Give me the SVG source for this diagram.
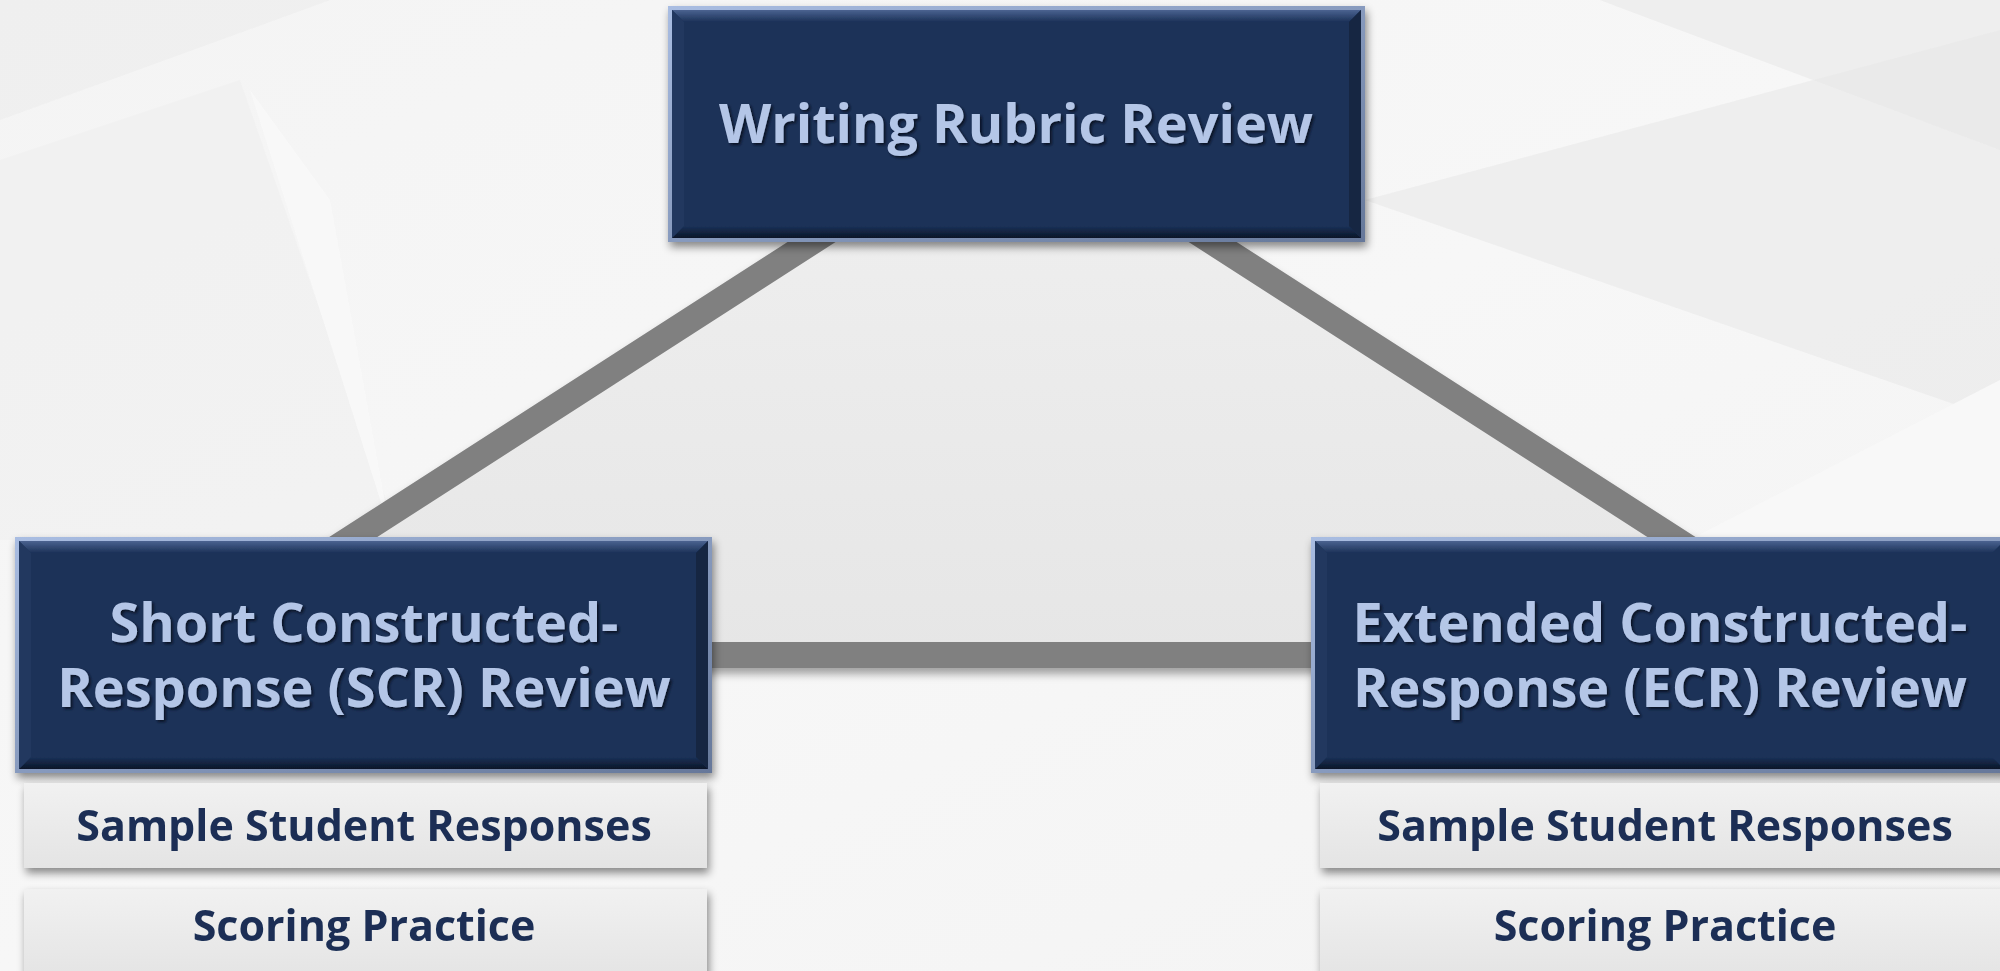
<svg xmlns="http://www.w3.org/2000/svg" width="2000" height="971" viewBox="0 0 2000 971">
  <defs>
    <linearGradient id="bg" x1="0" y1="0" x2="1" y2="1">
      <stop offset="0" stop-color="#f4f4f4"/>
      <stop offset="0.5" stop-color="#f7f7f7"/>
      <stop offset="1" stop-color="#f3f3f3"/>
    </linearGradient>
    <linearGradient id="tri" x1="0" y1="0" x2="0" y2="1">
      <stop offset="0" stop-color="#f0f0f0"/>
      <stop offset="1" stop-color="#e6e6e6"/>
    </linearGradient>
    <linearGradient id="rim" x1="0" y1="0" x2="1" y2="1">
      <stop offset="0" stop-color="#a9bde2"/>
      <stop offset="1" stop-color="#66789a"/>
    </linearGradient>
    <linearGradient id="bevTop" x1="0" y1="0" x2="0" y2="1">
      <stop offset="0" stop-color="#4a6390"/>
      <stop offset="1" stop-color="#1b3158"/>
    </linearGradient>
    <linearGradient id="bevBot" x1="0" y1="0" x2="0" y2="1">
      <stop offset="0" stop-color="#1b3158"/>
      <stop offset="1" stop-color="#0b1629"/>
    </linearGradient>
    <linearGradient id="sub" x1="0" y1="0" x2="0" y2="1">
      <stop offset="0" stop-color="#f1f1f1"/>
      <stop offset="1" stop-color="#e4e4e4"/>
    </linearGradient>
    <filter id="shadow" x="-10%" y="-10%" width="120%" height="130%">
      <feDropShadow dx="2" dy="5" stdDeviation="4" flood-color="#000" flood-opacity="0.45"/>
    </filter>
    <filter id="lshadow" x="-10%" y="-10%" width="120%" height="130%">
      <feDropShadow dx="0" dy="6" stdDeviation="4" flood-color="#000" flood-opacity="0.35"/>
    </filter>
    <filter id="tshadow" x="-5%" y="-20%" width="110%" height="150%">
      <feDropShadow dx="2" dy="2" stdDeviation="1.5" flood-color="#000" flood-opacity="0.6"/>
    </filter>
  </defs>
  <style>
    .title { font-family: "Open Sans", "Noto Sans", "Liberation Sans", sans-serif; font-weight: 700; fill: #b4c6e7; text-anchor: middle; font-size: 54px; }
    .sub { font-family: "Open Sans", "Noto Sans", "Liberation Sans", sans-serif; font-weight: 700; fill: #1a2f55; text-anchor: middle; font-size: 43px; }
    .conn { fill: url(#tri); stroke: #808080; stroke-width: 26; stroke-linejoin: miter; }
  </style>

  <!-- background -->
  <rect x="0" y="0" width="2000" height="971" fill="url(#bg)"/>
  <g opacity="0.6">
    <polygon points="0,0 330,0 0,120" fill="#e6e6e6" opacity="0.5"/>
    <polygon points="0,160 240,80 400,540 0,540" fill="#ececec" opacity="0.6"/>
    <polygon points="250,90 390,530 330,200" fill="#fbfbfb"/>
    <polygon points="1365,200 2000,30 2000,420" fill="#e2e2e2" opacity="0.7"/>
    <polygon points="1600,0 2000,0 2000,150" fill="#dcdcdc" opacity="0.5"/>
    <polygon points="1650,560 2000,380 2000,560" fill="#fafafa"/>
  </g>

  <!-- connectors -->
  <g id="connectors" filter="url(#lshadow)">
    <polygon class="conn" points="1012,113 170,655 1855,655"/>
  </g>

  <!-- top node -->
  <g id="node-writing" filter="url(#shadow)">
    <rect x="668" y="6" width="697" height="236" fill="url(#rim)"/>
    <rect x="672" y="10" width="689" height="228" fill="#1b3158"/>
    <polygon points="672,10 1361,10 1349,22 684,22" fill="url(#bevTop)"/>
    <polygon points="672,238 1361,238 1349,226 684,226" fill="url(#bevBot)"/>
    <polygon points="672,10 684,22 684,226 672,238" fill="#22395f"/>
    <polygon points="1361,10 1349,22 1349,226 1361,238" fill="#132543"/>
    <text class="title" x="1016" y="143" filter="url(#tshadow)">Writing Rubric Review</text>
  </g>

  <!-- left node -->
  <g id="node-scr">
    <g filter="url(#shadow)">
      <rect x="15" y="537" width="697" height="236" fill="url(#rim)"/>
      <rect x="19" y="541" width="689" height="228" fill="#1b3158"/>
      <polygon points="19,541 708,541 696,553 31,553" fill="url(#bevTop)"/>
      <polygon points="19,769 708,769 696,757 31,757" fill="url(#bevBot)"/>
      <polygon points="19,541 31,553 31,757 19,769" fill="#22395f"/>
      <polygon points="708,541 696,553 696,757 708,769" fill="#132543"/>
      <text class="title" x="364" y="642" filter="url(#tshadow)">Short Constructed-</text>
      <text class="title" x="364" y="707" filter="url(#tshadow)">Response (SCR) Review</text>
    </g>
  </g>
  <g id="node-scr-sample" filter="url(#shadow)">
    <rect x="24" y="783" width="683" height="85" fill="url(#sub)"/>
    <text class="sub" x="364" y="841">Sample Student Responses</text>
  </g>
  <g id="node-scr-scoring" filter="url(#shadow)">
    <rect x="24" y="889" width="683" height="90" fill="url(#sub)"/>
    <text class="sub" x="364" y="941">Scoring Practice</text>
  </g>

  <!-- right node -->
  <g id="node-ecr">
    <g filter="url(#shadow)">
      <rect x="1311" y="537" width="697" height="236" fill="url(#rim)"/>
      <rect x="1315" y="541" width="689" height="228" fill="#1b3158"/>
      <polygon points="1315,541 2004,541 1992,553 1327,553" fill="url(#bevTop)"/>
      <polygon points="1315,769 2004,769 1992,757 1327,757" fill="url(#bevBot)"/>
      <polygon points="1315,541 1327,553 1327,757 1315,769" fill="#22395f"/>
      <text class="title" x="1660" y="642" filter="url(#tshadow)">Extended Constructed-</text>
      <text class="title" x="1660" y="707" filter="url(#tshadow)">Response (ECR) Review</text>
    </g>
  </g>
  <g id="node-ecr-sample" filter="url(#shadow)">
    <rect x="1320" y="783" width="690" height="85" fill="url(#sub)"/>
    <text class="sub" x="1665" y="841">Sample Student Responses</text>
  </g>
  <g id="node-ecr-scoring" filter="url(#shadow)">
    <rect x="1320" y="889" width="690" height="90" fill="url(#sub)"/>
    <text class="sub" x="1665" y="941">Scoring Practice</text>
  </g>
</svg>
